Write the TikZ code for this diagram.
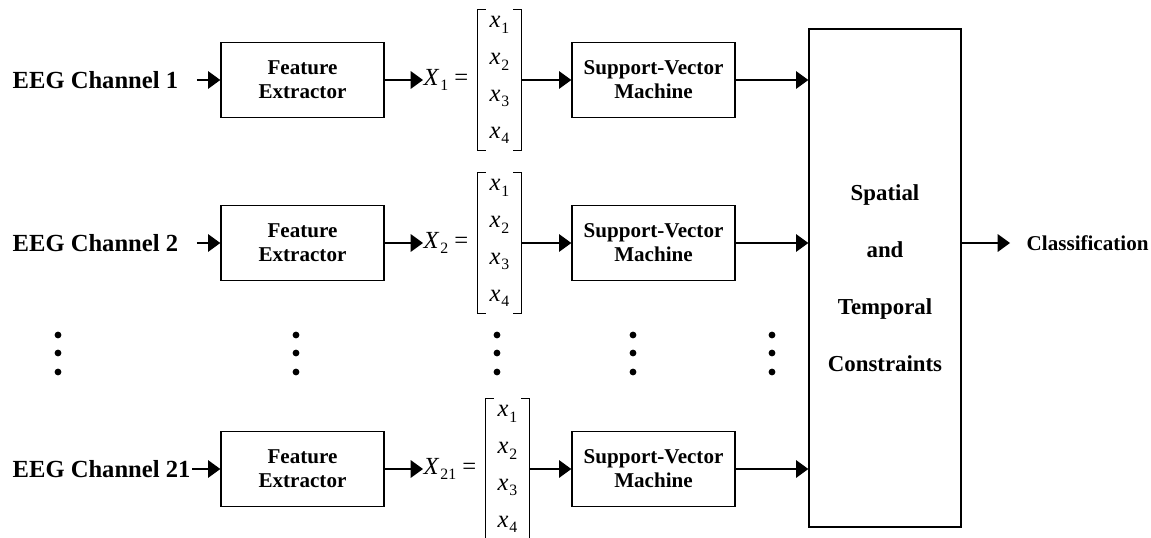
\documentclass[tikz,border=0pt]{standalone}
\usepackage{fontspec}
\setmainfont{Liberation Serif}
\usetikzlibrary{arrows.meta, calc, positioning}

\tikzset{
  block/.style={draw, line width=0.8pt, minimum width=3.26cm, minimum height=1.5cm, align=center, font=\fontsize{12}{13.7}\selectfont\bfseries},
  chan/.style={anchor=west, inner sep=0pt, font=\fontsize{14}{16}\selectfont\bfseries},
  vlab/.style={anchor=west, inner sep=0pt, font=\fontsize{14}{16}\selectfont},
  vec/.style={minimum width=0.84cm, minimum height=2.78cm, inner sep=0pt, align=center, font=\fontsize{14}{21}\selectfont},
}
% italic symbol with a small lowered upright index
\newcommand{\ent}[2]{\textit{#1}\kern0.5pt\raisebox{-3.2pt}{\fontsize{9}{9}\selectfont #2}}
% square brackets round a feature vector node
\newcommand{\vecbrackets}[1]{%
  \draw[line width=0.6pt] ([xshift=0.16cm]#1.north west) -- (#1.north west) -- (#1.south west) -- ([xshift=0.16cm]#1.south west);
  \draw[line width=0.6pt] ([xshift=-0.16cm]#1.north east) -- (#1.north east) -- (#1.south east) -- ([xshift=-0.16cm]#1.south east);}

\begin{document}
\begin{tikzpicture}[x=0.02cm, y=-0.02cm, >={Triangle[length=7pt, width=10pt]}, line width=0.8pt]
  \useasboundingbox (0,0) rectangle (1151,537);

  % channel 1
  \node[chan] (ch1) at (12,80) {EEG Channel 1};
  \node[block] (fe1) at (302.5,80) {Feature\\Extractor};
  \node[vlab] (x1) at (423,80) {\ent{X}{1} =};
  \node[vec, right=5pt of x1] (v1) {\ent{x}{1}\\\ent{x}{2}\\\ent{x}{3}\\\ent{x}{4}};
  \node[block] (svm1) at (653.5,80) {Support-Vector\\Machine};

  % channel 2
  \node[chan] (ch2) at (12,243) {EEG Channel 2};
  \node[block] (fe2) at (302.5,243) {Feature\\Extractor};
  \node[vlab] (x2) at (423,243) {\ent{X}{2} =};
  \node[vec, right=5pt of x2] (v2) {\ent{x}{1}\\\ent{x}{2}\\\ent{x}{3}\\\ent{x}{4}};
  \node[block] (svm2) at (653.5,243) {Support-Vector\\Machine};

  % channel 21
  \node[chan] (ch21) at (12,469) {EEG Channel 21};
  \node[block] (fe21) at (302.5,469) {Feature\\Extractor};
  \node[vlab] (x21) at (423,469) {\ent{X}{21} =};
  \node[vec, right=5pt of x21] (v21) {\ent{x}{1}\\\ent{x}{2}\\\ent{x}{3}\\\ent{x}{4}};
  \node[block] (svm21) at (653.5,469) {Support-Vector\\Machine};

  % fusion block and output
  \node[draw, line width=0.8pt, minimum width=3.04cm, minimum height=9.96cm, align=center, font=\fontsize{13}{32.4}\selectfont\bfseries] (stc) at (885,278) {Spatial\\and\\Temporal\\Constraints};
  \node[anchor=west, inner sep=0pt, font=\fontsize{12}{14}\selectfont\bfseries] (cls) at (1026,243) {Classification};

  \vecbrackets{v1}
  \vecbrackets{v2}
  \vecbrackets{v21}

  \draw[->] ([xshift=0.36cm]ch1.east) -- (fe1.west);
  \draw[->] (fe1.east) -- (x1.west);
  \draw[->] (v1.east) -- (svm1.west);
  \draw[->] (svm1.east) -- (svm1.east -| stc.west);

  \draw[->] ([xshift=0.36cm]ch2.east) -- (fe2.west);
  \draw[->] (fe2.east) -- (x2.west);
  \draw[->] (v2.east) -- (svm2.west);
  \draw[->] (svm2.east) -- (svm2.east -| stc.west);

  \draw[->] ([xshift=0.02cm]ch21.east) -- (fe21.west);
  \draw[->] (fe21.east) -- (x21.west);
  \draw[->] (v21.east) -- (svm21.west);
  \draw[->] (svm21.east) -- (svm21.east -| stc.west);

  \draw[->] (stc.east |- cls.west) -- ([xshift=-0.32cm]cls.west);

  % vertical ellipses between channel 2 and channel 21
  \foreach \px in {58, 296, 497, 633, 772}
    \foreach \py in {335, 353, 372}
      \fill (\px,\py) circle (3.4);
\end{tikzpicture}
\end{document}
